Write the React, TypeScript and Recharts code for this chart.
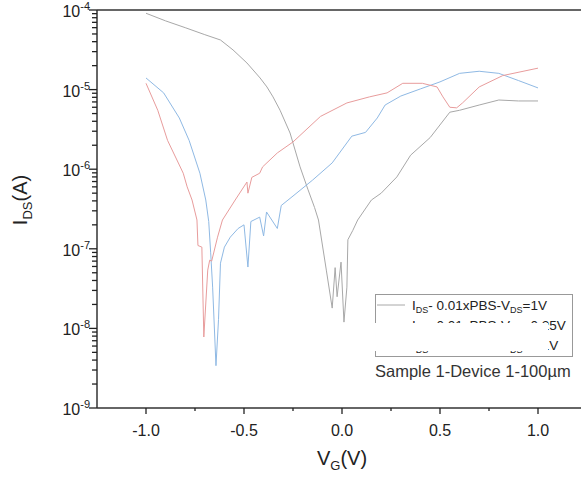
import { LineChart, Line, XAxis, YAxis, ReferenceLine, Legend } from 'recharts';

const FONT = '"Liberation Sans", Arial, sans-serif';

// V_DS = 1V (gray)
const grayV = [-1.0, -0.9, -0.8, -0.7, -0.62, -0.556, -0.485, -0.418, -0.383, -0.352, -0.316, -0.265, -0.214, -0.173, -0.14, -0.12, -0.08, -0.05, -0.035, -0.025, -0.005, 0.01, 0.025, 0.03, 0.055, 0.08, 0.15, 0.2, 0.28, 0.35, 0.45, 0.55, 0.6, 0.7, 0.8, 0.9, 1.0];
const grayI = [9.1e-5, 7.3e-5, 6.0e-5, 4.9e-5, 4.2e-5, 3.15e-5, 2.16e-5, 1.4e-5, 1.08e-5, 8.1e-6, 5.5e-6, 2.85e-6, 1.07e-6, 5.5e-7, 3.3e-7, 2.3e-7, 5.4e-8, 1.8e-8, 5.8e-8, 2.5e-8, 6.8e-8, 1.2e-8, 3.3e-8, 1.3e-7, 1.7e-7, 2.3e-7, 4.1e-7, 5.0e-7, 8.0e-7, 1.5e-6, 2.5e-6, 5.2e-6, 5.5e-6, 6.4e-6, 7.4e-6, 7.2e-6, 7.2e-6];

// blue
const blueV = [-1.0, -0.91, -0.83, -0.78, -0.725, -0.695, -0.68, -0.67, -0.66, -0.643, -0.63, -0.62, -0.6, -0.57, -0.53, -0.5, -0.48, -0.465, -0.42, -0.4, -0.385, -0.33, -0.31, -0.25, -0.15, -0.05, 0.05, 0.12, 0.18, 0.22, 0.3, 0.4, 0.5, 0.6, 0.7, 0.8, 0.9, 1.0];
const blueI = [1.4e-5, 9.1e-6, 4.4e-6, 2.3e-6, 8.9e-7, 4.1e-7, 2.2e-7, 8.9e-8, 3.3e-8, 3.4e-9, 1.3e-8, 6.6e-8, 1.05e-7, 1.4e-7, 1.8e-7, 2.0e-7, 5.9e-8, 2.2e-7, 2.5e-7, 1.45e-7, 2.9e-7, 1.8e-7, 3.5e-7, 4.6e-7, 7.3e-7, 1.2e-6, 2.6e-6, 2.9e-6, 4.4e-6, 6.4e-6, 8.3e-6, 1.02e-5, 1.25e-5, 1.6e-5, 1.7e-5, 1.6e-5, 1.3e-5, 1.05e-5];

// red
const redV = [-1.0, -0.94, -0.89, -0.81, -0.79, -0.765, -0.74, -0.735, -0.715, -0.705, -0.685, -0.675, -0.665, -0.635, -0.61, -0.545, -0.485, -0.48, -0.46, -0.42, -0.405, -0.33, -0.25, -0.11, 0.025, 0.14, 0.23, 0.31, 0.41, 0.485, 0.515, 0.55, 0.585, 0.615, 0.7, 0.82, 1.0];
const redI = [1.2e-5, 5.5e-6, 2.3e-6, 8.9e-7, 6.0e-7, 4.1e-7, 2.3e-7, 1.1e-7, 1.05e-7, 7.8e-9, 5.4e-8, 7.2e-8, 7.0e-8, 1.4e-7, 2.3e-7, 4.1e-7, 6.9e-7, 5.0e-7, 7.9e-7, 8.9e-7, 1.07e-6, 1.6e-6, 2.2e-6, 4.6e-6, 6.8e-6, 8.1e-6, 9.1e-6, 1.2e-5, 1.2e-5, 1.08e-5, 8.1e-6, 6.0e-6, 5.9e-6, 6.8e-6, 1.08e-5, 1.5e-5, 1.86e-5];

const xTicks = [-1.0, -0.75, -0.5, -0.25, 0, 0.25, 0.5, 0.75, 1.0];
const yDecades = [-9, -8, -7, -6, -5, -4];
const legendVds = ['1V', '0.25V', '0.1V'];
const sampleLabel = 'Sample 1-Device 1-100µm';

const GRAY = '#a8a8a8';
const BLUE = '#8fb9e4';
const RED = '#e89c9c';
const AXIS = '#333';

const toData = (vs: number[], is: number[]) => vs.map((v, k) => ({ v, i: is[k] }));
const grayData = toData(grayV, grayI);
const blueData = toData(blueV, blueI);
const redData = toData(redV, redI);

// majors + log minor ticks
const yTicks: number[] = [];
yDecades.forEach((e) => {
  yTicks.push(Math.pow(10, e));
  if (e < -4) for (let m = 2; m < 10; m++) yTicks.push(m * Math.pow(10, e));
});

function YTick({ x, y, payload }: any) {
  const lg = Math.log10(payload.value);
  const exp = Math.round(lg);
  const major = Math.abs(lg - exp) < 1e-6;
  return (
    <g>
      <line x1={x} x2={x - (major ? 8 : 5)} y1={y} y2={y} stroke="#222" strokeWidth={1.3} />
      {major && (
        <text x={x - 7} y={y + 7} textAnchor="end" fontSize={16} fill="#222" fontFamily={FONT}>
          10<tspan fontSize={11} dy={-7}>{exp}</tspan>
        </text>
      )}
    </g>
  );
}

function XTick({ x, y, payload }: any) {
  const v = payload.value;
  const major = Math.abs(v * 2 - Math.round(v * 2)) < 1e-6;
  return (
    <g>
      <line x1={x} x2={x} y1={y} y2={y + (major ? 6 : 3)} stroke="#222" strokeWidth={1.3} />
      {major && (
        <text x={x} y={y + 28} textAnchor="middle" fontSize={16} fill="#222" fontFamily={FONT}>
          {v.toFixed(1)}
        </text>
      )}
    </g>
  );
}

function XLabel({ viewBox }: any) {
  const vb = viewBox || { x: 97, y: 408, width: 490 };
  return (
    <text x={vb.x + vb.width / 2} y={vb.y + 57} textAnchor="middle" fontSize={20} fill="#222" fontFamily={FONT}>
      V<tspan fontSize={13} dy={5}>G</tspan><tspan dy={-5}>(V)</tspan>
    </text>
  );
}

function YLabel({ viewBox }: any) {
  const vb = viewBox || { x: 0, y: 10, height: 398 };
  const cx = vb.x + 27;
  const cy = vb.y + 190;
  return (
    <text x={cx} y={cy} transform={`rotate(-90 ${cx} ${cy})`} textAnchor="middle" fontSize={20} fill="#222" fontFamily={FONT}>
      I<tspan fontSize={13} dy={5}>DS</tspan><tspan dy={-5}>(A)</tspan>
    </text>
  );
}

const legendColors = [GRAY, BLUE, RED];

function LegendBox() {
  return (
    <svg width={210} height={95} style={{ display: 'block', fontFamily: FONT, overflow: 'visible' }}>
      <rect x={5.5} y={6.5} width={197} height={62} fill="#fff" stroke="#999" />
      {legendVds.map((vd, k) => (
        <g key={vd}>
          <line x1={7} x2={35} y1={17 + 20 * k} y2={17 + 20 * k} stroke={legendColors[k]} />
          <text x={42} y={22 + 20 * k} fontSize={13.5} fill="#222">
            I<tspan fontSize={9} dy={3}>DS</tspan>
            <tspan dy={-3}>- 0.01xPBS-V</tspan>
            <tspan fontSize={9} dy={3}>DS</tspan>
            <tspan dy={-3}>={vd}</tspan>
          </text>
        </g>
      ))}
      <rect x={-2} y={35} width={180} height={28} fill="#fff" />
      <text x={5} y={89} fontSize={16.5} fill="#333">{sampleLabel}</text>
    </svg>
  );
}

export default function App() {
  return (
    <div style={{ position: 'absolute', left: 0, top: 0, width: 581, height: 480, overflow: 'hidden', background: '#fff' }}>
      <LineChart width={600} height={480} margin={{ top: 10, right: 13, bottom: 0, left: 0 }}>
        <XAxis
          dataKey="v"
          type="number"
          domain={[-1.25, 1.25]}
          ticks={xTicks}
          interval={0}
          tickSize={0}
          tickMargin={0}
          tick={<XTick />}
          height={72}
          axisLine={{ stroke: AXIS, strokeWidth: 1.5 }}
          allowDataOverflow
          label={(p: any) => <XLabel {...p} />}
        />
        <YAxis
          dataKey="i"
          type="number"
          scale="log"
          domain={[1e-9, 1e-4]}
          ticks={yTicks}
          interval={0}
          tickSize={0}
          tickMargin={0}
          tick={<YTick />}
          width={97}
          axisLine={{ stroke: AXIS, strokeWidth: 1.5 }}
          allowDataOverflow
          label={(p: any) => <YLabel {...p} />}
        />
        <ReferenceLine y={1e-4} stroke={AXIS} strokeWidth={1.5} />
        <Legend
          layout="horizontal"
          verticalAlign="middle"
          content={() => <LegendBox />}
          wrapperStyle={{ left: 370, top: 288, width: 210, height: 95 }}
        />
        <Line data={grayData} dataKey="i" stroke={GRAY} strokeWidth={1} dot={false} isAnimationActive={false} />
        <Line data={blueData} dataKey="i" stroke={BLUE} strokeWidth={1} dot={false} isAnimationActive={false} />
        <Line data={redData} dataKey="i" stroke={RED} strokeWidth={1} dot={false} isAnimationActive={false} />
      </LineChart>
    </div>
  );
}
